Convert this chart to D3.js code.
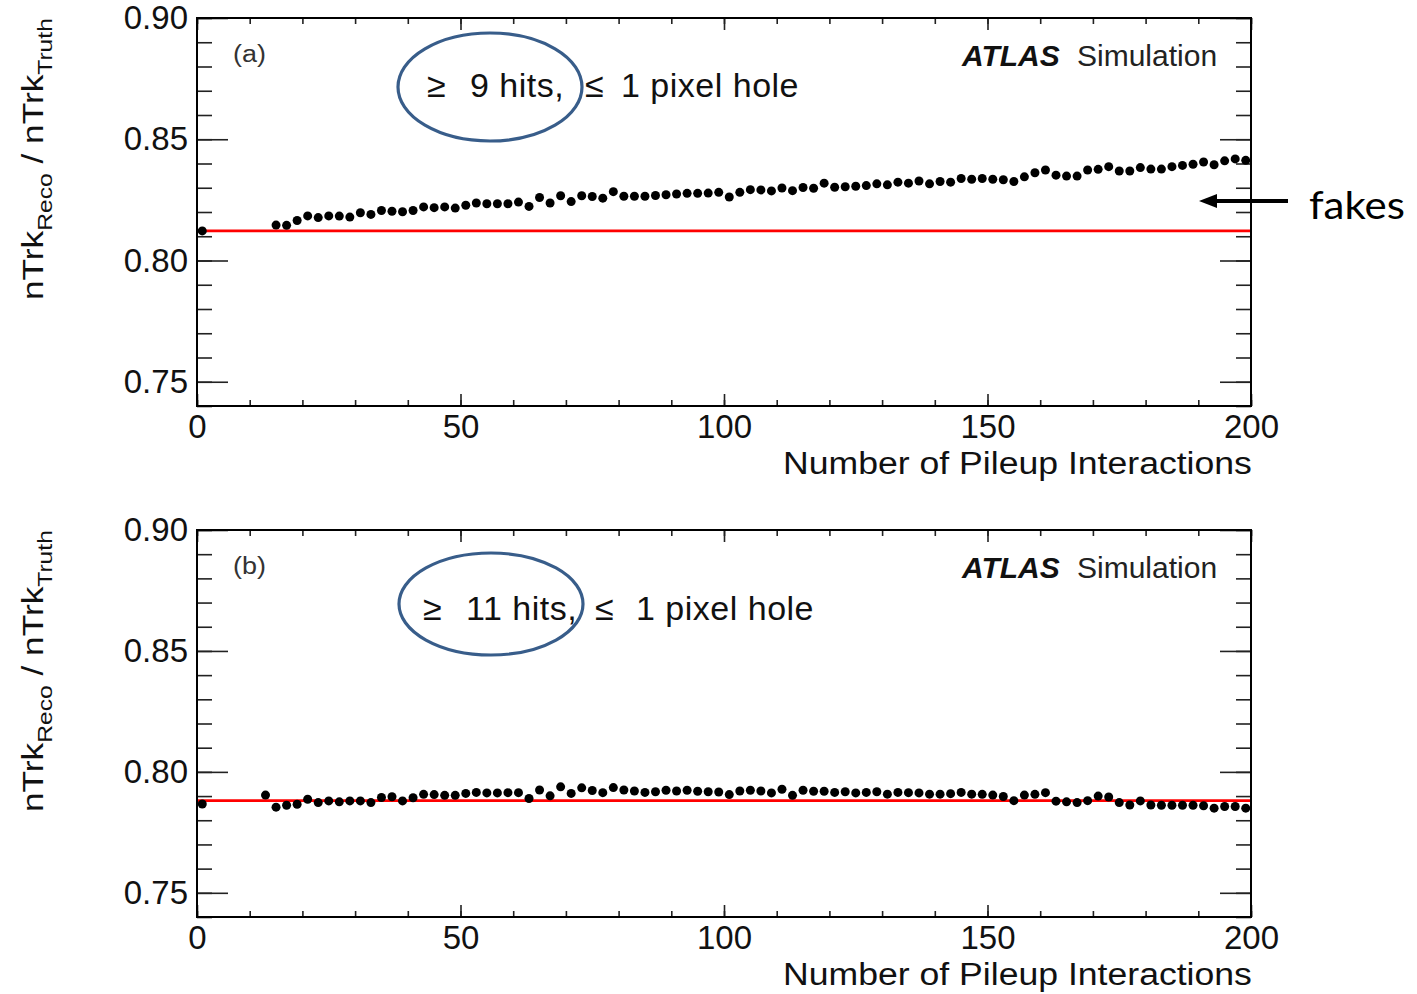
<!DOCTYPE html>
<html><head><meta charset="utf-8">
<script src="https://cdn.jsdelivr.net/npm/d3@7"></script>
<style>
body{margin:0;background:#fff;}
svg{display:block;}
text{font-family:"Liberation Sans",Arial,Helvetica,sans-serif;}
</style>
</head><body>
<svg id="c" width="1417" height="994"></svg>
<script>
// ---------- data ----------
const pileupA = [1,15,17,19,21,23,25,27,29,31,33,35,37,39,41,43,45,47,49,51,53,55,57,59,61,63,65,67,69,71,73,75,77,79,81,83,85,87,89,91,93,95,97,99,101,103,105,107,109,111,113,115,117,119,121,123,125,127,129,131,133,135,137,139,141,143,145,147,149,151,153,155,157,159,161,163,165,167,169,171,173,175,177,179,181,183,185,187,189,191,193,195,197,199];
const ratioA = [0.8122,
 0.8146,0.8145,0.8165,0.8184,0.8177,0.8184,0.8183,0.8179,0.8197,0.8190,
 0.8206,0.8203,0.8201,0.8206,0.8221,0.8218,0.8221,0.8216,0.8228,0.8237,
 0.8234,0.8234,0.8234,0.8241,0.8223,0.8260,0.8237,0.8267,0.8243,0.8267,
 0.8264,0.8257,0.8284,0.8265,0.8265,0.8265,0.8268,0.8271,0.8274,0.8277,
 0.8277,0.8278,0.8281,0.8262,0.8281,0.8292,0.8291,0.8287,0.8299,0.8288,
 0.8301,0.8298,0.8319,0.8302,0.8304,0.8306,0.8309,0.8316,0.8312,0.8323,
 0.8319,0.8328,0.8316,0.8326,0.8323,0.8338,0.8335,0.8338,0.8335,0.8333,
 0.8326,0.8345,0.8362,0.8373,0.8352,0.8348,0.8348,0.8373,0.8376,0.8387,
 0.8369,0.8369,0.8383,0.8377,0.8377,0.8387,0.8392,0.8397,0.8406,0.8395,
 0.8411,0.8419,0.8413];
const refLineA = 0.8122;

const pileupB = [1,13,15,17,19,21,23,25,27,29,31,33,35,37,39,41,43,45,47,49,51,53,55,57,59,61,63,65,67,69,71,73,75,77,79,81,83,85,87,89,91,93,95,97,99,101,103,105,107,109,111,113,115,117,119,121,123,125,127,129,131,133,135,137,139,141,143,145,147,149,151,153,155,157,159,161,163,165,167,169,171,173,175,177,179,181,183,185,187,189,191,193,195,197,199];
const ratioB = [0.7867,0.7904,
 0.7854,0.7862,0.7866,0.7887,0.7873,0.7880,0.7876,0.7880,0.7880,0.7873,
 0.7894,0.7897,0.7880,0.7893,0.7907,0.7906,0.7903,0.7903,0.7911,0.7915,
 0.7913,0.7913,0.7914,0.7914,0.7890,0.7925,0.7901,0.7938,0.7911,0.7934,
 0.7923,0.7914,0.7935,0.7925,0.7921,0.7915,0.7918,0.7924,0.7921,0.7924,
 0.7920,0.7918,0.7917,0.7906,0.7921,0.7924,0.7921,0.7913,0.7928,0.7903,
 0.7924,0.7920,0.7920,0.7915,0.7918,0.7913,0.7915,0.7918,0.7908,0.7915,
 0.7914,0.7913,0.7908,0.7908,0.7910,0.7915,0.7908,0.7907,0.7904,0.7898,
 0.7881,0.7904,0.7907,0.7914,0.7879,0.7876,0.7873,0.7881,0.7900,0.7896,
 0.7873,0.7863,0.7880,0.7863,0.7862,0.7862,0.7862,0.7862,0.7860,0.7850,
 0.7857,0.7857,0.7850];
const refLineB = 0.7881;

const xMajorTicks = [0,50,100,150,200];
const xMinorTicks = [0,10,20,30,40,50,60,70,80,90,100,110,120,130,140,150,160,170,180,190,200];
const yMajorTicks = [0.75,0.80,0.85,0.90];
const yMinorTicks = [0.74,0.75,0.76,0.77,0.78,0.79,0.80,0.81,0.82,0.83,0.84,0.85,0.86,0.87,0.88,0.89,0.90];
const xDomain = [0,200];
const yDomain = [0.74,0.90];
const xTitle = "Number of Pileup Interactions";
const panelLabels = ["(a)","(b)"];
const cutPartsA = ["\u2265 ", "9 hits, ", "\u2264 ", "1 pixel hole"];
const cutPartsB = ["\u2265 ", "11 hits, ", "\u2264 ", "1 pixel hole"];
const fakesLabel = "fakes";

// ---------- drawing ----------
const svg = d3.select("#c");
const L = 197, R = 1251;
const x = d3.scaleLinear().domain(xDomain).range([L, R]);

function stretch(sel, tx, ty, rot, targetW) {
  const w = sel.node().getBBox().width;
  sel.attr("transform", `translate(${tx},${ty}) rotate(${rot}) scale(${targetW / w},1)`);
}

function panel(idx, top, bottom, xs, ys, refVal, cutParts, cutXs, cutBase, ell) {
  const y = d3.scaleLinear().domain(yDomain).range([bottom, top]);
  const g = svg.append("g");
  const clipId = "clip" + idx;
  svg.append("clipPath").attr("id", clipId).append("rect")
    .attr("x", L).attr("y", top).attr("width", R - L).attr("height", bottom - top);

  const tickStyle = s => s.selectAll(".tick line").attr("stroke", "#222").attr("stroke-width", 1.6);
  const bMaj = g.append("g").attr("transform", `translate(0,${bottom})`)
    .call(d3.axisBottom(x).tickValues(xMajorTicks).tickSize(-12).tickPadding(9).tickFormat(d3.format("d")));
  bMaj.select(".domain").remove(); tickStyle(bMaj);
  bMaj.selectAll("text").attr("font-size", 33).attr("fill", "#111").style("font-family", '"Liberation Sans",Arial,sans-serif');
  const bMin = g.append("g").attr("transform", `translate(0,${bottom})`)
    .call(d3.axisBottom(x).tickValues(xMinorTicks).tickSize(-6).tickFormat(""));
  bMin.select(".domain").remove(); tickStyle(bMin);
  const tMaj = g.append("g").attr("transform", `translate(0,${top})`)
    .call(d3.axisTop(x).tickValues(xMajorTicks).tickSize(-12).tickFormat(""));
  tMaj.select(".domain").remove(); tickStyle(tMaj);
  const tMin = g.append("g").attr("transform", `translate(0,${top})`)
    .call(d3.axisTop(x).tickValues(xMinorTicks).tickSize(-6).tickFormat(""));
  tMin.select(".domain").remove(); tickStyle(tMin);
  const lMaj = g.append("g").attr("transform", `translate(${L},0)`)
    .call(d3.axisLeft(y).tickValues(yMajorTicks).tickSize(-31).tickPadding(9).tickFormat(d3.format(".2f")));
  lMaj.select(".domain").remove(); tickStyle(lMaj);
  lMaj.selectAll("text").attr("font-size", 33).attr("fill", "#111").style("font-family", '"Liberation Sans",Arial,sans-serif');
  const lMin = g.append("g").attr("transform", `translate(${L},0)`)
    .call(d3.axisLeft(y).tickValues(yMinorTicks).tickSize(-15).tickFormat(""));
  lMin.select(".domain").remove(); tickStyle(lMin);
  const rMaj = g.append("g").attr("transform", `translate(${R},0)`)
    .call(d3.axisRight(y).tickValues(yMajorTicks).tickSize(-31).tickFormat(""));
  rMaj.select(".domain").remove(); tickStyle(rMaj);
  const rMin = g.append("g").attr("transform", `translate(${R},0)`)
    .call(d3.axisRight(y).tickValues(yMinorTicks).tickSize(-15).tickFormat(""));
  rMin.select(".domain").remove(); tickStyle(rMin);

  g.append("line").attr("x1", x(xDomain[0])).attr("x2", x(xDomain[1]))
    .attr("y1", y(refVal)).attr("y2", y(refVal))
    .attr("stroke", "#ff0000").attr("stroke-width", 2.6);

  const pts = xs.map((v, i) => [v, ys[i]]);
  g.append("g").attr("clip-path", `url(#${clipId})`).selectAll("circle").data(pts).join("circle")
    .attr("cx", d => x(d[0])).attr("cy", d => y(d[1])).attr("r", 4.5).attr("fill", "#000");

  g.append("rect").attr("x", L).attr("y", top).attr("width", R - L).attr("height", bottom - top)
    .attr("fill", "none").attr("stroke", "#000").attr("stroke-width", 2);

  const xt = g.append("text").attr("font-size", 31).attr("fill", "#111").text(xTitle);
  stretch(xt, 1252 - 469, bottom + 68, 0, 469);

  const yt = g.append("text").attr("font-size", 30).attr("fill", "#111");
  yt.append("tspan").text("nTrk");
  yt.append("tspan").attr("font-size", 21).attr("dy", 9).text("Reco");
  yt.append("tspan").attr("dy", -9).text(" / nTrk");
  yt.append("tspan").attr("font-size", 21).attr("dy", 9).text("Truth");
  stretch(yt, 43, top + 282, -90, 282);

  const pl = g.append("text").attr("font-size", 24).attr("fill", "#333").text(panelLabels[idx]);
  stretch(pl, 233, top + 44, 0, 33);

  const at = g.append("text").attr("y", top + 48).attr("font-size", 30).attr("fill", "#111");
  at.append("tspan").attr("x", 962).attr("font-weight", "bold").attr("font-style", "italic").text("ATLAS");
  at.append("tspan").attr("x", 1077).attr("fill", "#222").text("Simulation");

  const ct = g.append("text").attr("y", cutBase).attr("font-size", 34).attr("fill", "#111")
    .attr("letter-spacing", 0.5).style("white-space", "pre");
  cutParts.forEach((p, i) => ct.append("tspan").attr("x", cutXs[i]).text(p));

  g.append("ellipse").attr("cx", ell[0]).attr("cy", ell[1]).attr("rx", ell[2]).attr("ry", ell[3])
    .attr("fill", "none").attr("stroke", "#385D8A").attr("stroke-width", 3.2);
  return y;
}

panel(0, 18, 406, pileupA, ratioA, refLineA, cutPartsA, [427, 470, 585, 621], 97, [490, 87, 92, 54]);
panel(1, 530, 917, pileupB, ratioB, refLineB, cutPartsB, [423, 466, 595, 636], 620, [491, 604, 92, 51]);

const ay = 201;
svg.append("line").attr("x1", 1288).attr("x2", 1212).attr("y1", ay).attr("y2", ay)
  .attr("stroke", "#000").attr("stroke-width", 4);
svg.append("path").attr("d", `M1199,${ay} L1217,${ay - 7} L1217,${ay + 7} Z`).attr("fill", "#000");
const fk = svg.append("text").attr("font-size", 38).attr("fill", "#000")
  .style("font-family", 'Lato,"Open Sans",sans-serif').text(fakesLabel);
stretch(fk, 1309, 219, 0, 96);
</script>
</body></html>
